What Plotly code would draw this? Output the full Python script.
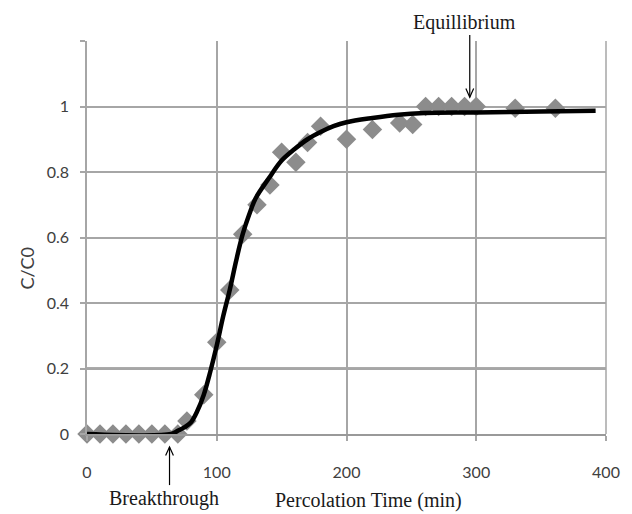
import plotly.graph_objects as go

# Measured data (percolation time in min, C/C0)
time_pts = [0, 10, 20, 30, 40, 50, 60, 70, 77, 90, 100, 110, 120, 131, 141, 150,
            161, 170, 180, 200, 220, 241, 251, 261, 271, 281, 291, 300, 330, 361]
conc_pts = [0, 0, 0, 0, 0, 0, 0, 0, 0.04, 0.12, 0.28, 0.44, 0.61, 0.70, 0.76, 0.86,
            0.83, 0.89, 0.94, 0.90, 0.93, 0.95, 0.945, 1.0, 1.0, 1.0, 1.0, 1.0, 0.995, 0.995]

# Fitted curve
fit_time = [0, 65, 70, 75, 80, 85, 90, 95, 100, 105, 110, 115, 120, 125, 130, 140,
            150, 160, 170, 180, 190, 200, 220, 240, 260, 300, 350, 392]
fit_conc = [0, 0, 0.01, 0.02, 0.035, 0.07, 0.12, 0.19, 0.27, 0.36, 0.44, 0.53, 0.61,
            0.67, 0.72, 0.78, 0.835, 0.87, 0.9, 0.922, 0.94, 0.952, 0.965, 0.975,
            0.98, 0.982, 0.985, 0.987]

x_ticks = [0, 100, 200, 300, 400]
y_ticks = [0, 0.2, 0.4, 0.6, 0.8, 1, 1.2]
y_tick_text = ["0", "0.2", "0.4", "0.6", "0.8", "1", ""]

GRID = "#a6a6a6"
TICKFONT = dict(family="Lato, Liberation Sans, sans-serif", size=16, color="#404040")
SERIF = dict(family="Liberation Serif, Times New Roman, serif", size=20, color="#1a1a1a")

fig = go.Figure()
fig.add_trace(go.Scatter(
    x=time_pts, y=conc_pts, mode="markers",
    marker=dict(symbol="diamond", size=15, color="#8c8c8c", line=dict(width=0)),
    showlegend=False, cliponaxis=False))
fig.add_trace(go.Scatter(
    x=fit_time, y=fit_conc, mode="lines", line=dict(color="black", width=4.5, shape="spline"),
    showlegend=False))

fig.update_xaxes(range=[0, 400], tickvals=x_ticks, showgrid=True, gridcolor=GRID, gridwidth=1.5,
                 zeroline=False, showline=True, linecolor="#999999", linewidth=2,
                 ticks="outside", ticklen=5, tickcolor=GRID, tickwidth=1.5,
                 tickfont=TICKFONT, ticklabelstandoff=18, mirror=False)
fig.update_yaxes(range=[0, 1.2], tickvals=y_ticks, ticktext=y_tick_text, showgrid=True,
                 gridcolor=GRID, gridwidth=1.5, zeroline=False, showline=True,
                 linecolor=GRID, linewidth=1.5, ticks="outside", ticklen=5, tickcolor=GRID,
                 tickwidth=1.5, tickfont=TICKFONT, ticklabelstandoff=8)

shapes = [
    # darker 0.2 gridline
    dict(type="line", xref="paper", yref="y", x0=0, x1=1, y0=0.2, y1=0.2,
         line=dict(color="#8f8f8f", width=2.5), layer="below"),
    # right border
    dict(type="line", xref="paper", yref="paper", x0=1, x1=1, y0=0, y1=1,
         line=dict(color=GRID, width=1.5), layer="below"),
    # Breakthrough arrow
    dict(type="line", xref="x", yref="paper", x0=63.6, x1=63.6, y0=-0.033, y1=-0.13,
         line=dict(color="black", width=1.2)),
    dict(type="path", xref="x", yref="paper",
         path="M 60.6,-0.055 L 63.6,-0.033 L 66.6,-0.055", line=dict(color="black", width=1.2)),
    # Equilibrium arrow
    dict(type="line", xref="x", yref="paper", x0=295, x1=295, y0=1.015, y1=0.857,
         line=dict(color="black", width=1.2)),
    dict(type="path", xref="x", yref="paper",
         path="M 292,0.879 L 295,0.857 L 298,0.879", line=dict(color="black", width=1.2)),
]

annotations = [
    dict(text="Equillibrium", xref="paper", yref="paper", x=0.728, y=1.048,
         showarrow=False, font=SERIF, xanchor="center", yanchor="middle"),
    dict(text="Breakthrough", xref="paper", yref="paper", x=0.149, y=-0.165,
         showarrow=False, font=SERIF, xanchor="center", yanchor="middle"),
    dict(text="Percolation Time (min)", xref="paper", yref="paper", x=0.542, y=-0.168,
         showarrow=False, font=SERIF, xanchor="center", yanchor="middle"),
    dict(text="C/C0", xref="paper", yref="paper", x=-0.115, y=0.422, textangle=-90,
         showarrow=False, font=dict(family="Lato, Liberation Sans, sans-serif", size=18,
                                    color="#404040"),
         xanchor="center", yanchor="middle"),
]

fig.update_layout(width=632, height=514, margin=dict(l=87, r=23, t=41, b=80),
                  plot_bgcolor="white", paper_bgcolor="white",
                  shapes=shapes, annotations=annotations, showlegend=False)

fig.write_html("out.html", config={"displayModeBar": False},
               post_script="document.body.style.margin='0';document.body.style.overflow='hidden';")
